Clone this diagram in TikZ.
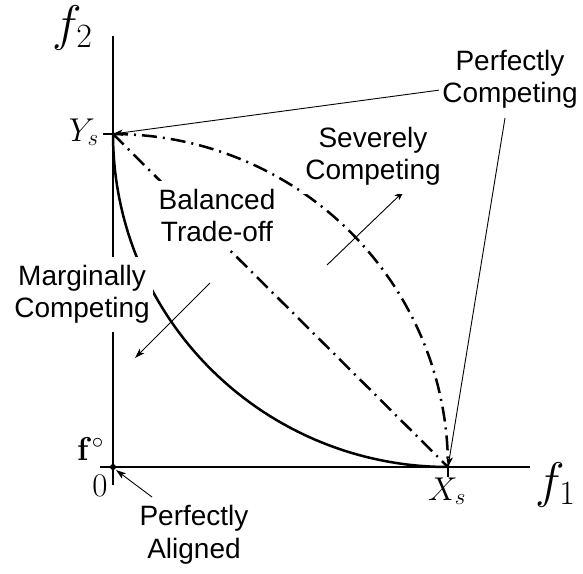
\RequirePackage{fix-cm}
\documentclass[tikz,border=0pt]{standalone}
\usepackage[no-math]{fontspec}
\newfontfamily\hv{Liberation Sans}
\usetikzlibrary{arrows.meta}
\DeclareMathSizes{50}{50}{34}{26}
\DeclareMathSizes{33}{33}{23}{17}
\begin{document}
\begin{tikzpicture}[x=1pt,y=-1pt,
  lbl/.style={font=\hv\fontsize{28}{32.5}\selectfont, align=center, fill=white, inner xsep=3pt, inner ysep=8pt},
  mth/.style={font=\fontsize{33}{36}\selectfont, inner sep=0pt},
  big/.style={font=\fontsize{50}{55}\selectfont, inner sep=0pt},
  axis/.style={line width=1.2pt},
  thinarrow/.style={line width=0.9pt, -{Stealth[length=10pt,width=6.5pt,inset=2.5pt]}},
  dashdot/.style={line width=2.5pt, dash pattern=on 15pt off 6pt on 2pt off 6pt},
  frontier/.style={line width=2.5pt}]
\useasboundingbox (0,0) rectangle (583,573);
% key points
\coordinate (O) at (113,467);
\coordinate (Ys) at (113,134);
\coordinate (Xs) at (448,467);
\coordinate (ytop) at (113,36);
\coordinate (ybot) at (113,485);
\coordinate (xleft) at (100,467);
\coordinate (xright) at (530,467);
% axes
\draw[axis] (ybot) -- (ytop);
\draw[axis] (xleft) -- (xright);
\draw[axis] (Ys) -- ++(-10,0);
\draw[axis] (Xs) -- ++(0,10);
\fill (O) circle (3pt);
% curves
\draw[frontier] plot[domain=180:270, samples=80, smooth] ({448+335*cos(\x)}, {134-333*sin(\x)});
\draw[dashdot] plot[domain=90:0, samples=80, smooth] ({113+335*cos(\x)}, {467-333*sin(\x)});
\draw[dashdot] (Ys) -- (Xs);
% arrows
\coordinate (pc1) at (440,90);
\coordinate (pc2) at (505,118);
\coordinate (sc1) at (327,265);
\coordinate (sc2) at (404,191);
\coordinate (mc1) at (210,283);
\coordinate (mc2) at (135,358);
\coordinate (pa1) at (152,497);
\coordinate (pa2) at (116,470);
\draw[thinarrow] (pc1) -- (Ys);
\draw[thinarrow] (pc2) -- (Xs);
\draw[thinarrow] (sc1) -- (sc2);
\draw[thinarrow] (mc1) -- (mc2);
\draw[thinarrow] (pa1) -- (pa2);
% labels
\node[big, anchor=base west] (f2) at (52,40) {$f_2$};
\node[big, anchor=base west] (f1) at (535,497) {$f_1$};
\node[mth, anchor=base east] (ysl) at (99,141) {$Y_s$};
\node[mth, anchor=base] (xsl) at (447,500) {$X_s$};
\node[mth, anchor=base east] (fo) at (104,460) {$\mathbf{f}^{\circ}$};
\node[mth, anchor=base] (zero) at (100,496) {$0$};
\node[lbl] (pc) at (510,79.5) {Perfectly\\Competing};
\node[lbl] (sc) at (373,156.5) {Severely\\Competing};
\node[lbl] (bt) at (217,215.5) {Balanced\\Trade-off};
\node[lbl] (mc) at (82,294.5) {Marginally\\Competing};
\node[lbl] (pa) at (194,535) {Perfectly\\Aligned};
\end{tikzpicture}
\end{document}
